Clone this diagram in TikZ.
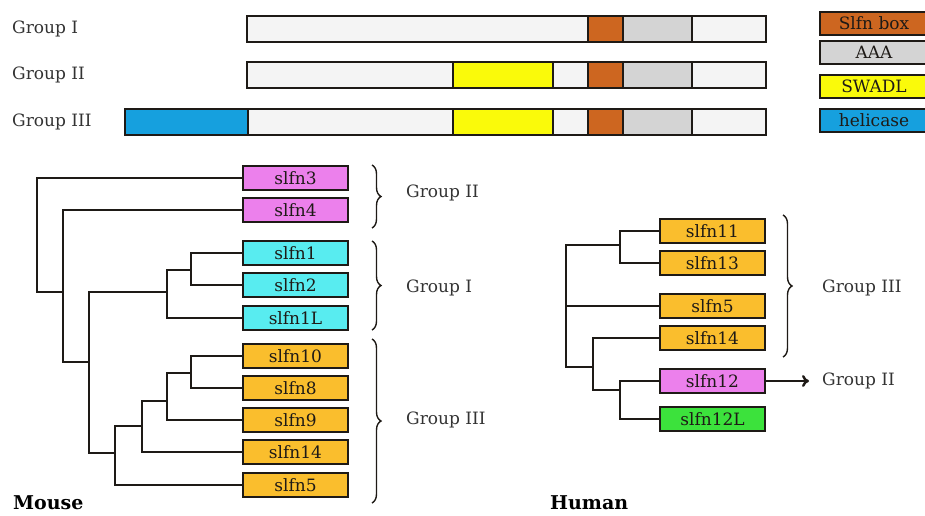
\documentclass[tikz,border=0pt]{standalone}
\usepackage{fontspec}
\setmainfont{DejaVu Serif}
\usepackage{tikz}
\usetikzlibrary{positioning,arrows.meta,decorations.pathreplacing}

\definecolor{slfnpink}{RGB}{236,128,236}
\definecolor{slfncyan}{RGB}{88,236,240}
\definecolor{slfnorange}{RGB}{250,190,45}
\definecolor{slfngreen}{RGB}{60,226,60}
\definecolor{boxbrown}{RGB}{205,102,32}
\definecolor{aaagray}{RGB}{212,212,212}
\definecolor{swadlyellow}{RGB}{250,250,10}
\definecolor{heliblue}{RGB}{22,160,222}
\definecolor{barfill}{RGB}{244,244,244}
\definecolor{inkdark}{RGB}{30,26,22}

\begin{document}
\begin{tikzpicture}[x=1pt,y=-1pt]
		\tikzstyle{txt}=[font=\fontsize{17}{20}\selectfont, text=inkdark, inner sep=0pt]
		\tikzstyle{gene}=[txt, rectangle, draw=inkdark, line width=2pt, minimum width=105pt, minimum height=24pt]
		\tikzstyle{grp}=[txt, anchor=west, text=black!80]
		\tikzstyle{legbox}=[gene, minimum width=108pt, minimum height=23pt]
		\tikzstyle{seg}=[draw=inkdark, line width=2pt]
		\tikzstyle{tree}=[line width=2.4pt, draw=inkdark]
		\tikzstyle{curly}=[decorate, decoration={brace, amplitude=9pt}, line width=1.4pt, draw=inkdark]
		\useasboundingbox (0,0) rectangle (925,515);
		
		% domain bars
		\node[grp] (gI) at (12,29) {Group I};
		\node[grp] (gII) at (12,75) {Group II};
		\node[grp] (gIII) at (12,122) {Group III};
		
		\draw[seg, fill=barfill] (247,16) rectangle (766,42);
		\draw[seg, fill=boxbrown] (588,16) rectangle (623,42);
		\draw[seg, fill=aaagray] (623,16) rectangle (692,42);
		
		\draw[seg, fill=barfill] (247,62) rectangle (766,88);
		\draw[seg, fill=swadlyellow] (453,62) rectangle (553,88);
		\draw[seg, fill=boxbrown] (588,62) rectangle (623,88);
		\draw[seg, fill=aaagray] (623,62) rectangle (692,88);
		
		\draw[seg, fill=barfill] (125,109) rectangle (766,135);
		\draw[seg, fill=heliblue] (125,109) rectangle (248,135);
		\draw[seg, fill=swadlyellow] (453,109) rectangle (553,135);
		\draw[seg, fill=boxbrown] (588,109) rectangle (623,135);
		\draw[seg, fill=aaagray] (623,109) rectangle (692,135);
		
		% legend
		\node[legbox, fill=boxbrown] (lbox) at (874,23) {Slfn box};
		\node[legbox, fill=aaagray] (laaa) at (874,52) {AAA};
		\node[legbox, fill=swadlyellow] (lswadl) at (874,86) {SWADL};
		\node[legbox, fill=heliblue] (lheli) at (874,120) {helicase};
		
		% mouse
		\node[gene, fill=slfnpink] (m3) at (295.5,178) {slfn3};
		\node[gene, fill=slfnpink] (m4) at (295.5,210) {slfn4};
		\node[gene, fill=slfncyan] (m1) at (295.5,253) {slfn1};
		\node[gene, fill=slfncyan] (m2) at (295.5,285) {slfn2};
		\node[gene, fill=slfncyan] (m1L) at (295.5,318) {slfn1L};
		\node[gene, fill=slfnorange] (m10) at (295.5,356) {slfn10};
		\node[gene, fill=slfnorange] (m8) at (295.5,388) {slfn8};
		\node[gene, fill=slfnorange] (m9) at (295.5,420) {slfn9};
		\node[gene, fill=slfnorange] (m14) at (295.5,452) {slfn14};
		\node[gene, fill=slfnorange] (m5) at (295.5,485) {slfn5};
		
		\coordinate (mc12) at (191,270);
		\coordinate (mcI) at (167,292);
		\coordinate (mc108) at (191,373);
		\coordinate (mc9) at (167,401);
		\coordinate (mc14) at (142,426);
		\coordinate (mcIII) at (115,453);
		\coordinate (mcA) at (89,362);
		\coordinate (mcB) at (63,292);
		\coordinate (mroot) at (37,292);
		
		\draw[tree] (m1.west) -| (mc12) |- (m2.west);
		\draw[tree] (mc12) -| (mcI) |- (m1L.west);
		\draw[tree] (m10.west) -| (mc108) |- (m8.west);
		\draw[tree] (mc108) -| (mc9) |- (m9.west);
		\draw[tree] (mc9) -| (mc14) |- (m14.west);
		\draw[tree] (mc14) -| (mcIII) |- (m5.west);
		\draw[tree] (mcI) -| (mcA) |- (mcIII);
		\draw[tree] (m4.west) -| (mcB) |- (mcA);
		\draw[tree] (m3.west) -| (mroot) -- (mcB);
		
		\draw[curly] (372,165) -- (372,228);
		\draw[curly] (372,241) -- (372,330);
		\draw[curly] (372,339) -- (372,503);
		\node[grp] (mgII) at (406,193) {Group II};
		\node[grp] (mgI) at (406,288) {Group I};
		\node[grp] (mgIII) at (406,420) {Group III};
		
		\node[grp, font=\fontsize{19}{22}\selectfont\bfseries, text=black] (mouse) at (13,503) {Mouse};
		
		% human
		\node[gene, fill=slfnorange] (h11) at (712.5,231) {slfn11};
		\node[gene, fill=slfnorange] (h13) at (712.5,263) {slfn13};
		\node[gene, fill=slfnorange] (h5) at (712.5,306) {slfn5};
		\node[gene, fill=slfnorange] (h14) at (712.5,338) {slfn14};
		\node[gene, fill=slfnpink] (h12) at (712.5,381) {slfn12};
		\node[gene, fill=slfngreen] (h12L) at (712.5,419) {slfn12L};
		
		\coordinate (hc1113) at (620,245);
		\coordinate (hroot) at (566,306);
		\coordinate (hc14) at (593,367);
		\coordinate (hc12) at (620,390);
		
		\draw[tree] (h11.west) -| (hc1113) |- (h13.west);
		\draw[tree] (hc1113) -| (hroot) -- (h5.west);
		\draw[tree] (hroot) |- (hc14);
		\draw[tree] (h14.west) -| (hc14) |- (hc12);
		\draw[tree] (h12.west) -| (hc12) |- (h12L.west);
		
		\draw[curly] (783,215) -- (783,357);
		\node[grp] (hgIII) at (822,288) {Group III};
		\node[grp] (hgII) at (822,381) {Group II};
		\draw[tree, -{To[length=7pt,width=12pt]}] (h12.east) -- (hgII.west) [shorten >=13pt];
		
		\node[grp, font=\fontsize{19}{22}\selectfont\bfseries, text=black] (human) at (550,503) {Human};
	\end{tikzpicture}
\end{document}
